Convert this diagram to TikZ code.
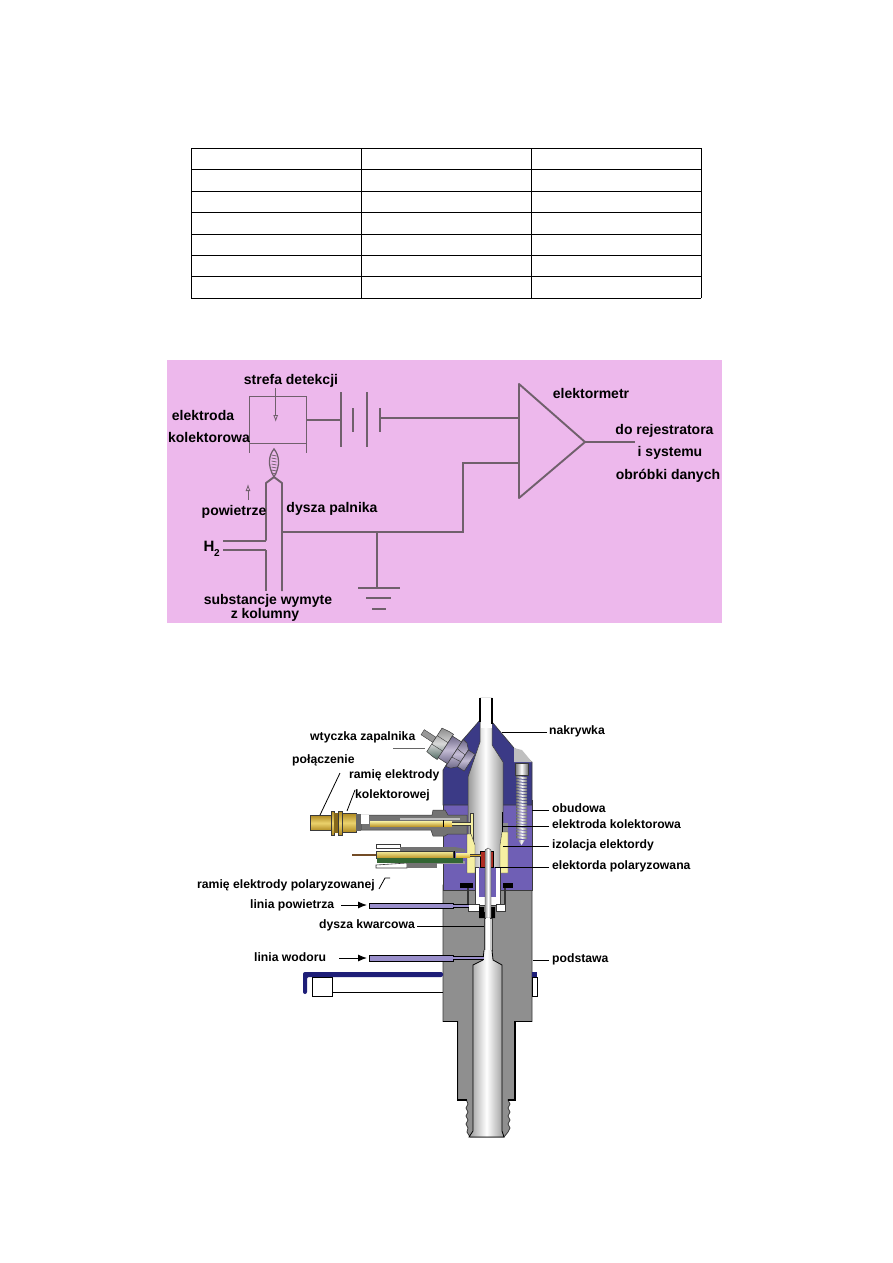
\documentclass[tikz,border=0pt]{standalone}
\usepackage{fontspec}
\setmainfont{Liberation Sans}
\usetikzlibrary{arrows.meta,calc}
\definecolor{pinkbg}{HTML}{EDB8EC}
\definecolor{wire}{HTML}{70606C}
\definecolor{purp}{HTML}{6F5FB5}
\definecolor{navy}{HTML}{3B3A86}
\definecolor{steel}{HTML}{8F8F8F}
\definecolor{pale}{HTML}{F6F0A2}
\definecolor{gold}{HTML}{DDAE2C}
\definecolor{brick}{HTML}{B02C22}
\definecolor{band}{HTML}{1E1E78}
\definecolor{outl}{HTML}{3A3A3A}
\definecolor{plugmid}{HTML}{C4BCD4}
\definecolor{plugdark}{HTML}{6E6888}
\definecolor{pluggreen}{HTML}{4F6A62}
\tikzset{
  x=1pt,y=-1pt,
  lead/.style={line width=1.9pt,color=wire,line cap=butt},
  thinlead/.style={line width=1pt,color=wire},
  ctag/.style={font=\fontsize{14}{15}\selectfont\bfseries,inner sep=0pt,anchor=center,align=center,text=black},
  ptag/.style={font=\fontsize{12.2}{13}\selectfont\bfseries,inner sep=0pt,anchor=west,text=black,text height=8pt,text depth=3pt},
  pointer/.style={line width=.8pt,color=black},
  flowarrow/.style={line width=1pt,color=black,-{Latex[length=9pt,width=7pt]}},
  bright/.style={left color=black!#1,right color=black!#1,middle color=white},
  goldbar/.style={top color=gold!80!black,bottom color=gold!80!black,middle color=gold!45!pale},
  plugbody/.style={top color=plugdark,bottom color=plugdark,middle color=plugmid,draw=outl,line width=.5pt},
}
\begin{document}
\begin{tikzpicture}
\useasboundingbox (0,0) rectangle (893,1263);
\fill[white] (0,0) rectangle (893,1263);

% empty table
\foreach \yy in {148,169,191,212,234,255,276,298}
  \draw[line width=.8pt] (191,\yy) -- (701,\yy);
\foreach \xx in {191,361,531,701}
  \draw[line width=.8pt] (\xx,148) -- (\xx,298);

% flame ionisation schematic
\fill[pinkbg] (167,360) rectangle (722,623);

\coordinate (boxTL) at (249.5,396);
\coordinate (boxTR) at (306.5,396);
\coordinate (boxBL) at (249.5,453);
\coordinate (boxBR) at (306.5,453);
\draw[lead] (boxTL) -- (boxBL);
\draw[lead] (boxTR) -- (boxBR);
\draw[thinlead] (boxTL) -- (boxTR);
\draw[thinlead] (249.5,443) -- (306.5,443);

% battery
\draw[lead] (306.5,420) -- (341,420);
\draw[lead] (341,392) -- (341,447);
\draw[lead] (353,408) -- (353,432);
\draw[lead] (367,392) -- (367,447);
\draw[lead] (380,408) -- (380,432);
\draw[lead] (380,418) -- (519,418);

% amplifier
\coordinate (ampT) at (519,384);
\coordinate (ampB) at (519,498);
\coordinate (ampO) at (585,442);
\draw[lead,line join=round] (ampT) -- (ampO) -- (ampB) -- cycle;
\draw[lead,line width=1.5pt] (ampO) -- (635,442);
\draw[lead] (519,463) -- (463,463) -- (463,532) -- (283,532);

% burner nozzle and flame
\draw[lead,line join=round] (266,540.5) -- (266,483) -- (274,477) -- (282,483) -- (282,591);
\draw[lead] (266,550) -- (266,591);
\draw[lead] (223,541) -- (266,541);
\draw[lead] (223,550) -- (266,550);
\draw[thinlead,line width=1.3pt] (274,477) .. controls (267,465) and (269,455) .. (274,449)
   .. controls (279,455) and (281,465) .. (274,477);
\foreach \yy in {455,458,...,473}
  \draw[wire,line width=.7pt] (271.5,\yy) -- (276.5,\yy+1);

% ground
\draw[lead] (377,532) -- (377,588);
\draw[lead] (358,588) -- (400,588);
\draw[lead] (366,598) -- (391,598);
\draw[lead] (372,609) -- (386,609);

% direction arrows
\coordinate (detS) at (275.7,388);
\coordinate (detE) at (275.7,422);
\draw[wire,line width=.8pt,-{Latex[open,length=7pt,width=5pt]}] (detS) -- (detE);
\coordinate (airS) at (248,500);
\coordinate (airE) at (248,484);
\draw[wire,line width=.8pt,-{Latex[open,length=7pt,width=5pt]}] (airS) -- (airE);

% schematic labels
\node[ctag] (tStrefa) at (291,381) {strefa detekcji};
\node[ctag] (tElek) at (203,415) {elektroda};
\node[ctag] (tKol) at (209,437) {kolektorowa};
\node[ctag] (tPow) at (234,512) {powietrze};
\node[ctag] (tDys) at (332,509) {dysza palnika};
\node[ctag,font=\fontsize{15}{16}\selectfont\bfseries] (tH) at (209,546) {H};
\node[ctag,font=\fontsize{10}{11}\selectfont\bfseries] (tHs) at (217,553) {2};
\node[ctag] (tSub) at (268,601) {substancje wymyte};
\node[ctag] (tZk) at (265,615) {z kolumny};
\node[ctag] (tElm) at (591,393) {elektormetr};
\node[ctag] (tDo) at (664.5,431) {do rejestratora};
\node[ctag] (tIs) at (670,453) {i systemu};
\node[ctag] (tOb) at (668,476) {obróbki danych};

% burner body: base casting
\filldraw[fill=steel,draw=outl,line width=.8pt,line join=miter]
  (443,885) -- (443,1021.5) -- (457.7,1021.5) -- (457.7,1100) -- (466.5,1100)
  -- (468,1104) -- (466,1108) -- (468,1112) -- (466,1116) -- (468,1120) -- (466,1124) -- (468,1128) -- (467,1132)
  -- (470,1137) -- (504,1137)
  -- (508,1132) -- (510,1128) -- (508,1124) -- (510,1120) -- (508,1116) -- (510,1112) -- (508,1108) -- (510,1104) -- (508,1100)
  -- (515,1100) -- (515,1021.5) -- (532,1021.5) -- (532,885) -- cycle;
\draw[black,line width=1.2pt] (443,1021.5) -- (457.7,1021.5) -- (457.7,1100) -- (466.5,1100);
\draw[black,line width=1.2pt] (508,1100) -- (515,1100) -- (515,1021.5) -- (532,1021.5);

% purple mid section and dark cap
\filldraw[fill=purp,draw=outl,line width=.6pt]
  (443,800) rectangle (532,890);
\filldraw[fill=navy,draw=outl,line width=.6pt]
  (480,720) -- (460,743) -- (443,770) -- (443,805) -- (532,805) -- (532,762) -- (514,748) -- (493,723) -- cycle;

% screw recess and cap screw
\fill[black!25] (514,748) -- (522,750) -- (532,762) -- (514,762) -- cycle;
\shade[bright=55,draw=outl,line width=.4pt] (515,763) rectangle (528,775);
\foreach \yy in {776,779,...,838}
  \shade[bright=60] (516,\yy) -- (527,\yy+1) -- (527,\yy+3.2) -- (516,\yy+2.2) -- cycle;
\shade[bright=50] (518,840) -- (525,840) -- (521.5,845) -- cycle;

% central bore through cap and body
\shade[bright=40,draw=outl,line width=.5pt]
  (480,698) -- (480,742) -- (468,777) -- (468,868) -- (503,868) -- (503,762) -- (492,745) -- (492,698) -- cycle;
\fill[white] (480.5,698) rectangle (491.5,728);
\draw[black,line width=1.2pt] (480,698) -- (480,722);
\draw[black,line width=1.2pt] (492,698) -- (492,724);

% insulators
\fill[black!45] (503,823) rectangle (508,833);
\filldraw[fill=pale,draw=outl,line width=.4pt] (470,813) rectangle (473,843);
\filldraw[fill=pale,draw=outl,line width=.4pt] (467,834) -- (471,834) -- (475,845) -- (475,873) -- (467,873) -- cycle;
\filldraw[fill=pale,draw=outl,line width=.4pt] (502,832) -- (508,832) -- (508,873) -- (500,873) -- (500,845) -- cycle;
\draw[black,line width=.8pt] (502,812) -- (502,832);

% lower chamber, air tee, nut
\filldraw[fill=white,draw=outl,line width=.6pt] (475,867) rectangle (500,905);
\fill[purp] (479,867) rectangle (496,897);
\filldraw[fill=white,draw=outl,line width=.5pt] (468,904) rectangle (479,911);
\filldraw[fill=white,draw=outl,line width=.5pt] (496,904) rectangle (505,911);
\fill[black] (479,907) -- (479,918) -- (495,918) -- (495,907) -- (491,907) -- (491,912) -- (484,912) -- (484,907) -- cycle;
\fill[black] (460,883) rectangle (473,888);
\fill[black] (503,883) rectangle (513,888);
\draw[black!80,line width=1.3pt] (468,888) -- (468,904);
\draw[black!80,line width=1.3pt] (505,888) -- (505,904);
\filldraw[fill=brick,draw=black,line width=.4pt] (480,851) rectangle (493,867);

% quartz jet and lower bore
\shade[bright=40,draw=outl,line width=.4pt]
  (485,850) -- (488,848) -- (491,850) -- (491,918) -- (485,918) -- cycle;
\filldraw[fill=black!20,draw=outl,line width=.4pt] (484,918) rectangle (492,950);
\fill[white] (486,918) rectangle (490,950);
\shade[bright=40]
  (484,950) -- (483,960) -- (473,965) -- (473,1131) -- (469,1137) -- (504,1137) -- (502,1131) -- (502,965) -- (493,960) -- (492,950) -- cycle;
\draw[black,line width=.8pt]
  (484,950) -- (483,960) -- (473,965) -- (473,1131) -- (469,1137) -- (504,1137) -- (502,1131) -- (502,965) -- (493,960) -- (492,950);

% air and hydrogen lines
\filldraw[fill=purp!70!white,draw=black,line width=.7pt] (369,903) rectangle (453,908);
\fill[purp!70!white] (453,904) rectangle (469,907);
\draw[black,line width=.4pt] (453,904) -- (469,904) (453,907) -- (469,907);
\filldraw[fill=purp!70!white,draw=black,line width=.7pt] (369,955) rectangle (453,961);
\fill[purp!70!white] (453,956.5) rectangle (484,959.5);
\draw[black,line width=.4pt] (453,956.5) -- (484,956.5) (453,959.5) -- (484,959.5);

% hex wrench clipped to the body
\fill[band,rounded corners=2pt] (303,994) -- (303,972) -- (443,972) -- (443,977) -- (307,977) -- (307,994) -- cycle;
\filldraw[fill=white,draw=black,line width=.7pt] (312,977) rectangle (332,996);
\draw[black,line width=.8pt] (332,992.5) -- (443,992.5);
\fill[band] (532,972) rectangle (537,977);
\filldraw[fill=white,draw=black,line width=.6pt] (532,977) rectangle (537,996);

% collector electrode arm
\path[fill=black!55,draw=outl,line width=.5pt]
  (361,815) -- (432,815) -- (433,810) -- (445,810) -- (448,815) -- (467,815) -- (467,834) -- (448,834) -- (445,836) -- (433,836) -- (431,830) -- (361,830) -- cycle;
\fill[white] (361,815) rectangle (369,824);
\fill[black!25] (400,818) rectangle (460,819.5);
\shade[top color=pale,bottom color=gold!85!black] (370,821) rectangle (443,826.5);
\draw[black,line width=1pt] (443,820) -- (443,827);
\shade[top color=pale,bottom color=gold] (444,821) rectangle (452,826);
\fill[pale] (452,822) rectangle (471,825);
\draw[outl,line width=.3pt] (452,822) -- (471,822) (452,825) -- (471,825);
\shade[goldbar,draw=outl,line width=.3pt] (310,815.5) rectangle (331,830.5);
\shade[goldbar,draw=outl,line width=.5pt] (331,811) rectangle (334,835);
\shade[goldbar,draw=outl,line width=.5pt] (338,811) rectangle (342,835);
\fill[gold!60!black] (334,813) rectangle (338,833);
\shade[goldbar,draw=outl,line width=.3pt] (342,813.5) rectangle (356,832);
\fill[black!60] (356,814) rectangle (361,831);

% polarised electrode arm
\draw[brown!60!black,line width=1.4pt] (352,855) -- (376,855);
\filldraw[fill=white,draw=outl,line width=.6pt] (376,844) -- (400,844) -- (400,848) -- (376,848) -- cycle;
\filldraw[fill=white,draw=outl,line width=.6pt] (376,865) -- (407,863) -- (407,868) -- (376,868) -- cycle;
\fill[black!55] (400,847) -- (455,847) -- (465,849) -- (465,852) -- (400,852) -- cycle;
\fill[black!55] (407,863) rectangle (437,868);
\fill[black!40] (437,861) rectangle (465,864);
\shade[top color=pale,bottom color=gold!85!black,draw=outl,line width=.3pt] (376,851) rectangle (453,858);
\fill[green!25!black!80] (377,858) rectangle (463,862.5);
\draw[black,line width=1pt] (454,851) -- (454,858);
\shade[top color=pale,bottom color=gold] (456,853) rectangle (470,857.5);
\fill[gold] (470,854) rectangle (481,856.5);
\draw[outl,line width=.3pt] (470,854) -- (481,854) (470,856.5) -- (481,856.5);

% igniter plug, inclined on the cap
\begin{scope}[shift={(447,748)},rotate=-33]
  \filldraw[fill=black!40,draw=outl,line width=.4pt] (-29,-3) rectangle (-15,3);
  \shade[plugbody,top color=black!45,bottom color=pluggreen,middle color=black!15] (-15,-14) -- (-7,-15) -- (-2,-15) -- (-2,15) -- (-7,15) -- (-15,14) -- cycle;
  \draw[outl,line width=.4pt] (-15,-5) -- (-2,-5) (-15,5) -- (-2,5);
  \shade[plugbody] (-2,-13) rectangle (9,13);
  \shade[plugbody] (9,-16) -- (14,-15) -- (19,-10) -- (19,10) -- (14,15) -- (9,16) -- cycle;
  \draw[outl,line width=.4pt] (9,-5) -- (19,-4) (9,5) -- (19,4);
  \shade[plugbody] (19,-10) rectangle (27,10);
\end{scope}

% burner flow arrows
\coordinate (arA) at (341,905);
\coordinate (arAe) at (367,905);
\coordinate (arH) at (339,958);
\coordinate (arHe) at (367,958);
\draw[flowarrow] (arA) -- (arAe);
\draw[flowarrow] (arH) -- (arHe);

% burner labels and pointers
\node[ptag] (nNak) at (549,732) {nakrywka};
\node[ptag] (nWty) at (310,738) {wtyczka zapalnika};
\node[ptag] (nPol) at (292,761) {połączenie};
\node[ptag] (nRam) at (349,776) {ramię elektrody};
\node[ptag] (nKol) at (355,796) {kolektorowej};
\node[ptag] (nObu) at (552,810) {obudowa};
\node[ptag] (nEle) at (552,826) {elektroda kolektorowa};
\node[ptag] (nIzo) at (552,846) {izolacja elektordy};
\node[ptag] (nEpo) at (552,867) {elektorda polaryzowana};
\node[ptag] (nRpo) at (197,886) {ramię elektrody polaryzowanej};
\node[ptag] (nLip) at (250,906) {linia powietrza};
\node[ptag] (nDko) at (319,926) {dysza kwarcowa};
\node[ptag] (nLiw) at (254,959) {linia wodoru};
\node[ptag] (nPod) at (552,960) {podstawa};

\coordinate (pNak) at (502,732);
\coordinate (pWtyA) at (393,748);
\coordinate (pWty) at (425,748);
\coordinate (pPolA) at (340,773);
\coordinate (pPol) at (320,815);
\coordinate (pRamA) at (355,790);
\coordinate (pRam) at (347,811);
\coordinate (pObu) at (532,810);
\coordinate (pEle) at (503,826);
\coordinate (pIzo) at (503,846);
\coordinate (pEpo) at (495,867);
\coordinate (pRpoA) at (379,889);
\coordinate (pRpo) at (385,878);
\coordinate (pRpoB) at (390,878);
\coordinate (pDko) at (484,926);
\coordinate (pPod) at (533,960);

\draw[pointer] ([xshift=-2pt]nNak.west) -- (pNak);
\draw[pointer,black!60] (pWtyA) -- (pWty);
\draw[pointer] (pPolA) -- (pPol);
\draw[pointer] (pRamA) -- (pRam);
\draw[pointer] ([xshift=-3pt]nObu.west) -- (pObu);
\draw[pointer] ([xshift=-3pt]nEle.west) -- (pEle);
\draw[pointer] ([xshift=-3pt]nIzo.west) -- (pIzo);
\draw[pointer] ([xshift=-3pt]nEpo.west) -- (pEpo);
\draw[pointer] (pRpoA) -- (pRpo) -- (pRpoB);
\draw[pointer] ([xshift=2pt]nDko.east) -- (pDko);
\draw[pointer] ([xshift=-3pt]nPod.west) -- (pPod);
\end{tikzpicture}
\end{document}
